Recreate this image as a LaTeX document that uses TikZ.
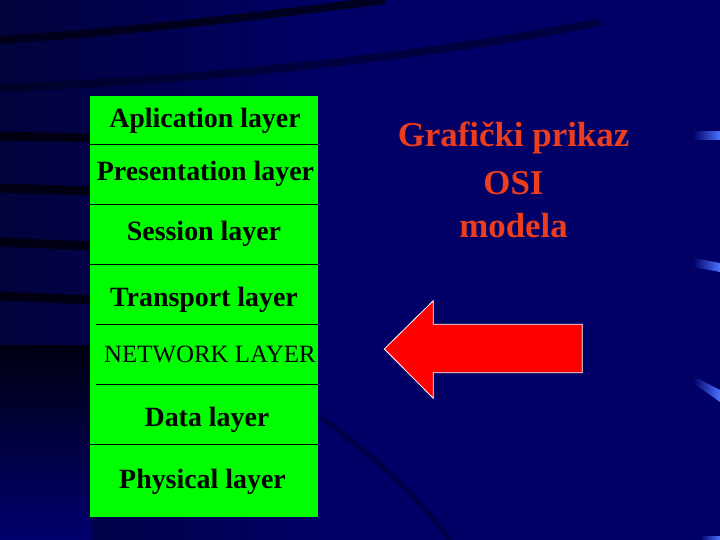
\documentclass[tikz,border=0pt]{standalone}
\usepackage{fontspec}
\setmainfont{Liberation Serif}
\definecolor{navy}{RGB}{0,0,102}
\definecolor{navyleft}{RGB}{2,2,60}
\definecolor{navylow}{RGB}{0,0,110}
\definecolor{streak}{RGB}{0,0,18}
\definecolor{boxgreen}{RGB}{0,255,0}
\definecolor{titlered}{RGB}{236,62,30}
\definecolor{arrowred}{RGB}{255,0,0}
\definecolor{glow}{RGB}{75,115,255}

\begin{document}
\begin{tikzpicture}[x=1bp,y=1bp]
\tikzstyle{every node}+=[inner sep=0pt]
\tikzstyle{layer}=[anchor=base,font=\fontsize{28}{33}\selectfont\bfseries]
\tikzstyle{title}=[anchor=base,text=titlered,font=\fontsize{35}{40}\selectfont\bfseries]
\tikzstyle{sep}=[black,line width=0.8]
\useasboundingbox (0,0) rectangle (720,-540);
% background
\shade [left color=navyleft, right color=navy] (0,0) rectangle (320,-540);
\fill [navy] (320,0) rectangle (720,-540);
\shade [top color=streak, bottom color=navylow] (0,-345) rectangle (92,-540);
\draw [streak, line width=8, opacity=0.8] (0,-40) .. controls (150,-30) and (290,-12) .. (385,0);
\draw [streak, line width=8, opacity=0.45] (0,-88) .. controls (200,-80) and (420,-58) .. (600,-22);
\draw [streak, line width=9] (0,-136) -- (92,-138);
\draw [streak, line width=9] (0,-188) -- (92,-191);
\draw [streak, line width=9] (0,-242) -- (92,-246);
\draw [streak, line width=9] (0,-296) -- (92,-300);
\draw [streak, line width=5, opacity=0.35] (320,-417) .. controls (380,-460) and (420,-500) .. (450,-540);
\shade [left color=navy, right color=glow] (693,-132) rectangle (720,-140);
\shade [left color=navy, right color=glow] (693,-258) -- (720,-263) -- (720,-272) -- (693,-267) -- cycle;
\shade [left color=navy, right color=glow] (693,-376) -- (720,-390) -- (720,-402) -- (693,-383) -- cycle;
\shade [left color=navy, right color=glow] (700,-536) rectangle (720,-540);
% layer stack
\fill [boxgreen] (90,-96) rectangle (318,-517);
\draw [sep] (90,-144.5) -- (318,-144.5);
\draw [sep] (90,-204) -- (318,-204);
\draw [sep] (90,-264.5) -- (318,-264.5);
\draw [sep] (96,-324.5) -- (318,-324.5);
\draw [sep] (96,-384.5) -- (318,-384.5);
\draw [sep] (90,-444) -- (318,-444);
\node [layer] (app) at (205,-127.3) {Aplication layer};
\node [layer] (pres) at (205.5,-181) {Presentation layer};
\node [layer] (sess) at (204,-240.3) {Session layer};
\node [layer] (trans) at (204,-306) {Transport layer};
\node [anchor=base west,font=\fontsize{25}{30}\selectfont] (net) at (104,-362.7) {NETWORK LAYER};
\node [layer] (data) at (207,-426) {Data layer};
\node [layer] (phys) at (202.5,-488.3) {Physical layer};
% title
\node [title] (graf) at (513.5,-146.7) {Grafički prikaz};
\node [title] (osi) at (513.5,-195) {OSI};
\node [title] (model) at (513.5,-237.7) {modela};
% arrow
\filldraw [fill=arrowred, draw=white, line width=0.8] (384.3,-349) -- (433.3,-300.7) -- (433.3,-324.3) -- (582.3,-324.3) -- (582.3,-372.7) -- (433.3,-372.7) -- (433.3,-398.3) -- cycle;
\end{tikzpicture}
\end{document}
